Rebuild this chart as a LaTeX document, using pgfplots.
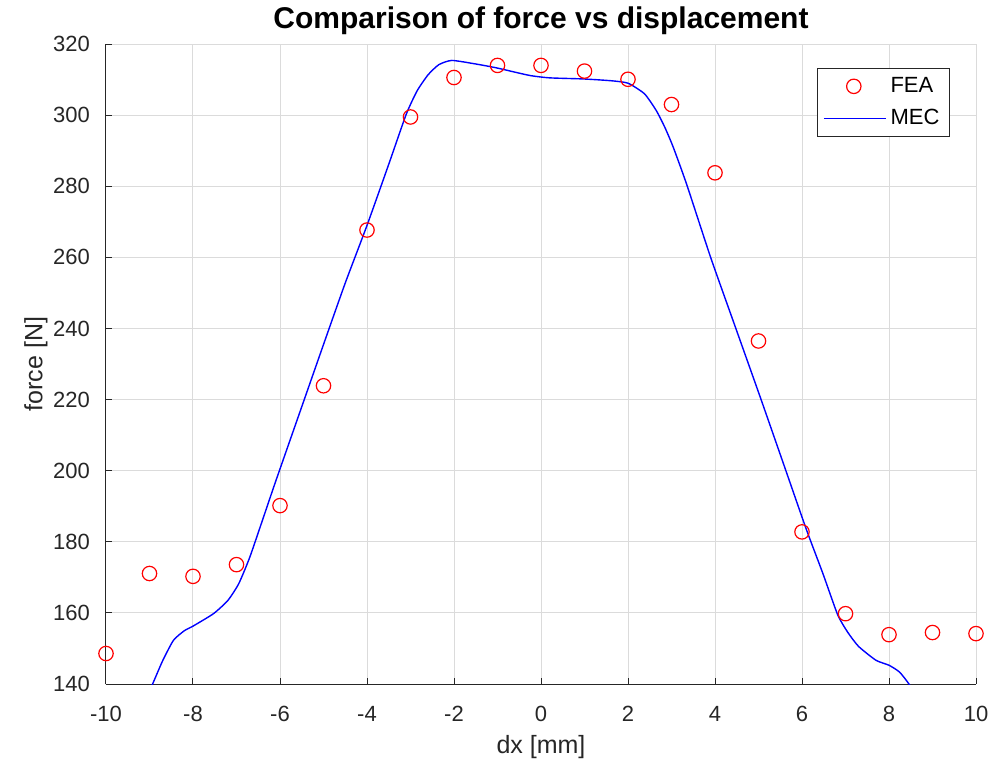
\documentclass[border=0pt]{standalone}
\usepackage{fontspec}
\setmainfont{Liberation Sans}
\usepackage{pgfplots}
\pgfplotsset{compat=1.18}
\definecolor{axgray}{rgb}{0.15,0.15,0.15}
\definecolor{gridgray}{rgb}{0.86,0.86,0.86}
\begin{document}
\begin{tikzpicture}
\begin{axis}[
  name=ax,
  scale only axis,
  width=435pt, height=320pt,
  xmin=-10, xmax=10, ymin=140, ymax=320,
  xtick={-10,-8,...,10},
  ytick={140,160,...,320},
  axis x line*=bottom, axis y line*=left,
  axis line style={axgray, line width=0.5pt},
  tick align=inside,
  major tick length=3pt,
  tick style={axgray, line width=0.5pt},
  grid=major,
  major grid style={gridgray, line width=0.5pt},
  /pgf/number format/assume math mode=true,
  ticklabel style={font=\fontsize{11}{13}\selectfont, text=axgray},
  xticklabel style={yshift=-7.5pt},
  yticklabel style={xshift=-4.5pt},
  xlabel={dx [mm]},
  ylabel={force [N]},
  label style={font=\fontsize{12.5}{15}\selectfont, text=axgray},
  ylabel style={yshift=-4pt},
  title={\textbf{Comparison of force vs displacement}},
  title style={font=\fontsize{15}{17}\selectfont, yshift=-4.8pt},
  legend style={at={(rel axis cs:0.97,0.963)}, anchor=north east,
    draw=axgray, line width=0.5pt, fill=white,
    font=\fontsize{11}{13}\selectfont, text=black,
    inner xsep=3pt, inner ysep=2.5pt, row sep=3pt},
  legend cell align=left,
]
\addplot[only marks, mark=o, mark size=3.6pt, red, line width=0.6pt,
  legend image code/.code={\draw[red, line width=0.6pt] plot[mark=o, mark size=3.6pt, only marks] coordinates {(15pt,0pt)};}] coordinates {
(-10,148.6) (-9,171.1) (-8,170.3) (-7,173.6) (-6,190.2) (-5,223.9)
(-4,267.7) (-3,299.5) (-2,310.6) (-1,314.0) (0,314.0) (1,312.4)
(2,310.1) (3,303.0) (4,283.8) (5,236.5) (6,182.8) (7,159.8)
(8,153.9) (9,154.5) (10,154.2)
};
\addlegendentry{FEA}
\addplot[blue, line width=0.7pt, smooth, tension=0.35, mark=none,
  legend image code/.code={\draw[blue, line width=0.7pt] (0pt,0pt) -- (31pt,0pt);}] coordinates {
(-9.2,133) (-8.93,140) (-8.7,146.5) (-8.45,152.3) (-8.2,155) (-8.0,156.3)
(-7.53,159.8) (-7.2,163.5) (-6.95,168.2) (-6.7,175.5) (-6.4,186.2)
(-6.1,197) (-5.5,218) (-5.0,235.5) (-4.5,252.8) (-4.0,269)
(-3.5,286.2) (-3.1,300.2) (-2.85,306.8) (-2.6,311.3) (-2.35,314.2)
(-2.05,315.4) (-1.5,314.4) (-1.02,313.3) (-0.27,311.2) (0.2,310.5)
(0.96,310.2) (1.6,309.7) (2.0,309.0) (2.38,306.0) (2.65,301.3)
(2.85,296.5) (3.04,291.0) (3.35,280.5) (3.9,260) (4.48,240) (5.06,220)
(5.63,200) (6.1,183.5) (6.48,171.1) (6.82,159.5) (7.05,154.6)
(7.3,150.6) (7.7,146.7) (8.0,145.3) (8.24,143.4) (8.46,140) (8.7,135)
};
\addlegendentry{MEC}
\end{axis}
\path (ax.south west) ++(-53pt,-41.5pt) coordinate (bl);
\path (ax.north east) ++(9.5pt,22pt) coordinate (tr);
\path (bl) rectangle (tr);
\end{tikzpicture}
\end{document}
